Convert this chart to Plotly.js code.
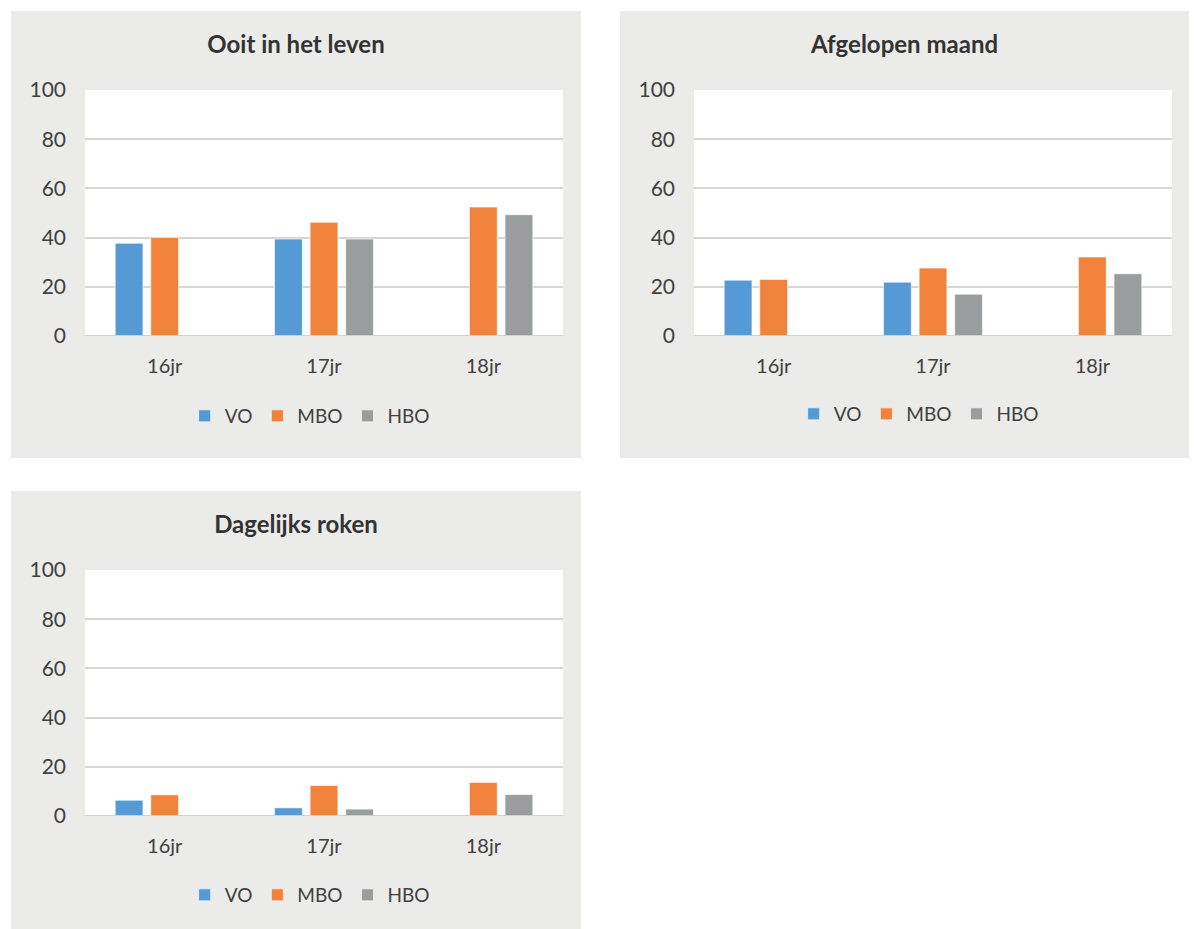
<!DOCTYPE html>
<html>
<head>
<meta charset="utf-8">
<script src="https://cdn.plot.ly/plotly-3.0.1.min.js"></script>
<style>
  body { margin:0; background:#ffffff; width:1194px; height:929px; position:relative; overflow:hidden; }
  .panel { position:absolute; }
</style>
</head>
<body>
<div id="p1" class="panel" style="left:11px;top:11px;width:570px;height:447px;"></div>
<div id="p2" class="panel" style="left:620px;top:11px;width:569px;height:447px;"></div>
<div id="p3" class="panel" style="left:11px;top:491px;width:570px;height:438px;"></div>
<script>
const categories = ['16jr', '17jr', '18jr'];
const seriesNames = ['VO', 'MBO', 'HBO'];
const seriesColors = ['#5599D5', '#F0823C', '#9A9D9E'];
const yTicks = [0, 20, 40, 60, 80, 100];

const titleOoit = 'Ooit in het leven';
const ooitVO  = [37.7, 39.4, null];
const ooitMBO = [40.0, 46.2, 52.4];
const ooitHBO = [null, 39.4, 49.3];

const titleMaand = 'Afgelopen maand';
const maandVO  = [22.7, 21.9, null];
const maandMBO = [23.0, 27.6, 32.1];
const maandHBO = [null, 17.0, 25.3];

const titleDagelijks = 'Dagelijks roken';
const dagVO  = [6.4, 3.3, null];
const dagMBO = [8.6, 12.4, 13.6];
const dagHBO = [null, 2.8, 8.7];

const FONT = 'Lato, "Open Sans", "DejaVu Sans", sans-serif';

function drawPanel(id, title, vo, mbo, hbo, w, h, legendY) {
  const vals = [vo, mbo, hbo];
  const traces = vals.map((v, i) => ({
    type: 'bar',
    name: seriesNames[i],
    x: categories,
    y: v,
    marker: { color: seriesColors[i], line: { color: 'rgba(255,255,255,0.6)', width: 1 } },
    hoverinfo: 'skip'
  }));
  const layout = {
    width: w,
    height: h,
    paper_bgcolor: '#EBEBE9',
    plot_bgcolor: '#FFFFFF',
    margin: { l: 74, r: w - 74 - 478, t: 79, b: h - 79 - 246, pad: 0 },
    title: {
      text: '<b>' + title + '</b>',
      font: { family: FONT, size: 24, color: '#333333' },
      x: 0.5, xanchor: 'center',
      y: 1 - 34 / h, yanchor: 'middle', yref: 'container'
    },
    barmode: 'group',
    bargap: 0.33,
    bargroupgap: 0.22,
    xaxis: {
      type: 'category',
      showgrid: false,
      showline: false,
      zeroline: false,
      ticks: '',
      ticklabelstandoff: 16,
      tickfont: { family: FONT, size: 20, color: '#404040' }
    },
    yaxis: {
      range: [0, 100],
      tickvals: yTicks,
      ticktext: yTicks.map(String),
      showgrid: true,
      gridcolor: '#D6D6D6',
      gridwidth: 2,
      zeroline: false,
      showline: false,
      ticks: '',
      ticklabelstandoff: 18,
      tickfont: { family: FONT, size: 21, color: '#404040' }
    },
    showlegend: true,
    legend: {
      orientation: 'h',
      x: 0.47, xanchor: 'center',
      y: legendY, yanchor: 'middle', yref: 'container',
      font: { family: FONT, size: 19, color: '#404040' },
      itemwidth: 30,
      bgcolor: 'rgba(0,0,0,0)'
    },
    shapes: [{
      type: 'line', xref: 'paper', yref: 'y', x0: 0, x1: 1, y0: 0, y1: 0,
      line: { color: '#D0D0D0', width: 2 }, layer: 'above'
    }]
  };
  Plotly.newPlot(id, traces, layout, { staticPlot: true, displayModeBar: false });
}

drawPanel('p1', titleOoit, ooitVO, ooitMBO, ooitHBO, 570, 447, (447 - 405) / 447);
drawPanel('p2', titleMaand, maandVO, maandMBO, maandHBO, 569, 447, (447 - 403) / 447);
drawPanel('p3', titleDagelijks, dagVO, dagMBO, dagHBO, 570, 438, (438 - 404) / 438);
</script>
</body>
</html>
